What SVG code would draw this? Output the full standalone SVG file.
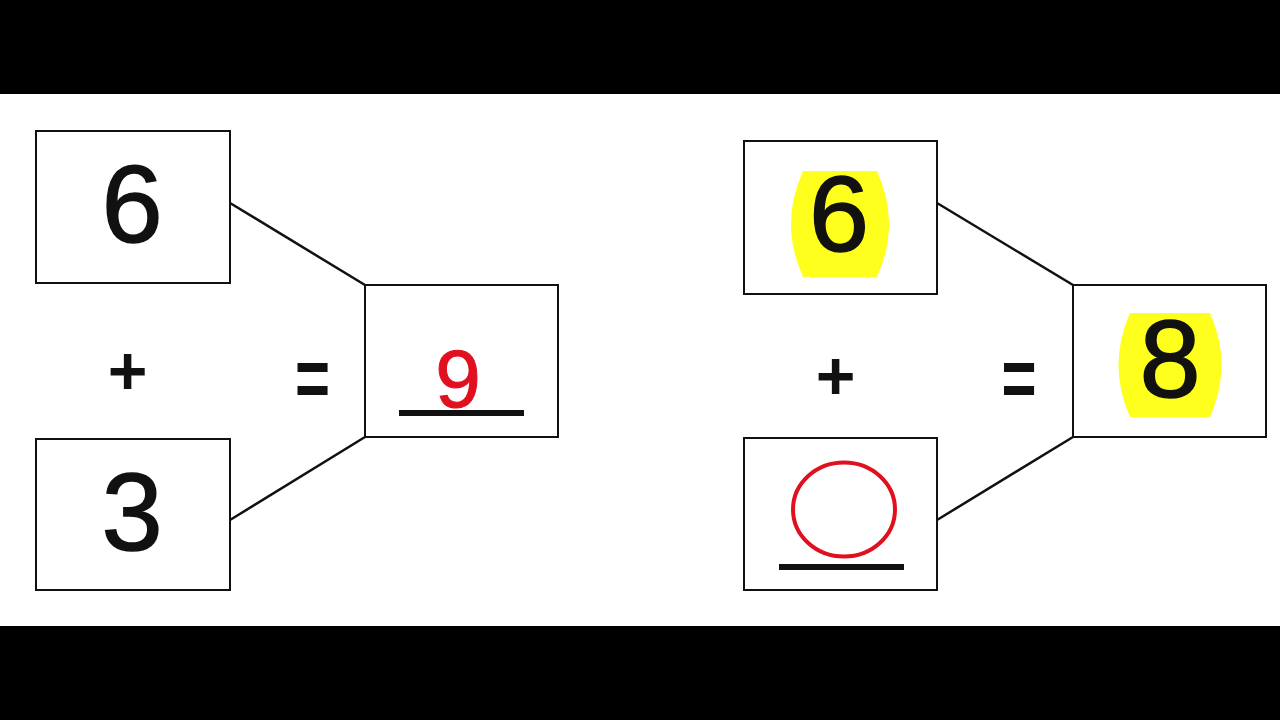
<svg xmlns="http://www.w3.org/2000/svg" width="1280" height="720" viewBox="0 0 1280 720">
  <style>
    .box { fill: #ffffff; stroke: #111111; stroke-width: 2; }
    .conn { stroke: #111111; stroke-width: 2.5; fill: none; }
    .num { font-family: "Liberation Sans", Arial, sans-serif; font-size: 110px; fill: #111111; stroke: #111111; stroke-width: 1.5; text-anchor: middle; }
    .red { fill: #e0101e; stroke: #e0101e; stroke-width: 1; }
    .op { font-family: "Liberation Sans", Arial, sans-serif; fill: #111111; text-anchor: middle; font-weight: bold; }
    .hl { fill: #ffff1e; }
    .ul { fill: #111111; }
  </style>
  <rect x="0" y="0" width="1280" height="720" fill="#ffffff"/>
  <rect x="0" y="0" width="1280" height="94" fill="#000000"/>
  <rect x="0" y="626" width="1280" height="94" fill="#000000"/>

  <g id="connectors">
    <line class="conn" x1="230" y1="203" x2="365" y2="285"/>
    <line class="conn" x1="230" y1="520" x2="365" y2="437"/>
    <line class="conn" x1="937" y1="203" x2="1073" y2="285"/>
    <line class="conn" x1="937" y1="520" x2="1073" y2="437"/>
  </g>

  <g id="left-top">
    <rect class="box" x="36" y="131" width="194" height="152"/>
    <text class="num" x="132" y="242">6</text>
  </g>
  <g id="left-bottom">
    <rect class="box" x="36" y="439" width="194" height="151"/>
    <text class="num" x="132" y="550">3</text>
  </g>
  <g id="left-result">
    <rect class="box" x="365" y="285" width="193" height="152"/>
    <text class="num red" x="458" y="407" style="font-size:82px">9</text>
    <rect class="ul" x="399" y="410" width="125" height="6"/>
  </g>
  <g id="left-ops">
    <text class="op" x="127.5" y="394" style="font-size:68px">+</text>
    <text class="op" transform="translate(312.5,376.5) scale(1,1.4)" x="0" y="22" style="font-size:60px">=</text>
  </g>

  <g id="right-top">
    <rect class="box" x="744" y="141" width="193" height="153"/>
    <path class="hl" d="M803,171 L877,171 Q901,224 877,277 L803,277 Q779,224 803,171 Z"/>
    <text class="num" x="839" y="251" style="font-size:108px">6</text>
  </g>
  <g id="right-bottom">
    <rect class="box" x="744" y="438" width="193" height="152"/>
    <ellipse cx="844" cy="509.5" rx="51" ry="47" fill="none" stroke="#e0101e" stroke-width="4"/>
    <rect class="ul" x="779" y="564" width="125" height="6"/>
  </g>
  <g id="right-result">
    <rect class="box" x="1073" y="285" width="193" height="152"/>
    <path class="hl" d="M1130,313 L1210,313 Q1233,365 1210,417 L1130,417 Q1107,365 1130,313 Z"/>
    <text class="num" x="1170" y="397">8</text>
  </g>
  <g id="right-ops">
    <text class="op" x="835.5" y="399" style="font-size:68px">+</text>
    <text class="op" transform="translate(1019,376.5) scale(1,1.4)" x="0" y="22" style="font-size:60px">=</text>
  </g>
</svg>
